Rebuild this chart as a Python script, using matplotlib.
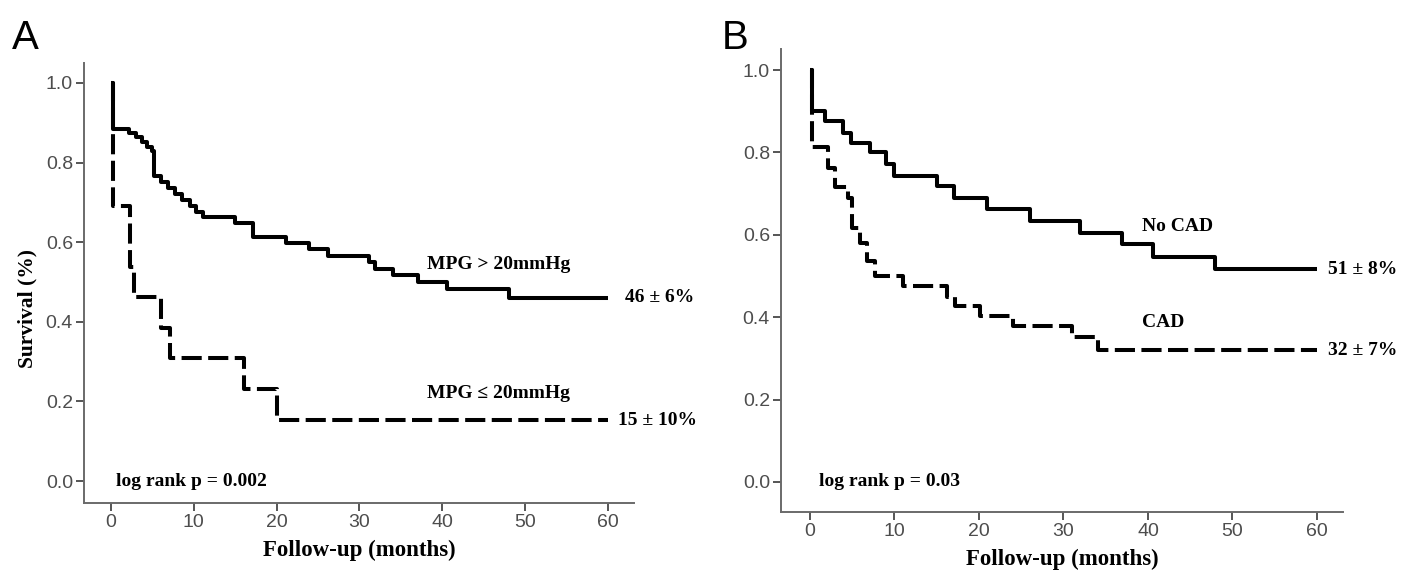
import matplotlib
matplotlib.use("Agg")
import matplotlib.pyplot as plt

# panel A: MPG groups (months, survival after each step)
a_hi_t = [0, 0.3, 2.2, 3.0, 3.7, 4.4, 4.9, 5.2, 6.0, 6.9, 7.7, 8.6, 9.5, 10.3, 11.1, 15.0, 17.1, 21.1, 23.9, 26.2, 31.1, 31.9, 34.1, 37.1, 40.6, 48.1]
a_hi_s = [1.0, 0.885, 0.874, 0.864, 0.852, 0.840, 0.828, 0.766, 0.752, 0.735, 0.720, 0.705, 0.690, 0.676, 0.662, 0.648, 0.612, 0.598, 0.584, 0.566, 0.549, 0.533, 0.517, 0.500, 0.483, 0.460]
a_lo_t = [0, 0.3, 2.3, 2.8, 6.0, 7.1, 16.0, 20.1]
a_lo_s = [1.0, 0.692, 0.538, 0.462, 0.385, 0.308, 0.231, 0.154]

# panel B: CAD groups
b_no_t = [0, 0.2, 1.8, 3.9, 4.9, 7.1, 9.0, 9.9, 15.0, 17.0, 20.9, 26.0, 32.0, 36.9, 40.6, 47.9]
b_no_s = [1.0, 0.901, 0.877, 0.848, 0.824, 0.800, 0.771, 0.743, 0.718, 0.690, 0.662, 0.633, 0.605, 0.577, 0.547, 0.516]
b_cad_t = [0, 0.2, 2.1, 3.0, 4.5, 5.0, 5.9, 6.8, 7.7, 11.0, 16.2, 17.2, 20.1, 24.0, 31.0, 34.1]
b_cad_s = [1.0, 0.812, 0.763, 0.715, 0.690, 0.617, 0.580, 0.536, 0.500, 0.475, 0.448, 0.427, 0.402, 0.378, 0.353, 0.321]

follow_end = 60
xticks = [0, 10, 20, 30, 40, 50, 60]
yticks = [0.0, 0.2, 0.4, 0.6, 0.8, 1.0]

SERIF = "Liberation Serif"
SANS = "Liberation Sans"
W, H = 1401, 570


def km(ax, t, s, dashed=False):
    x = list(t) + [follow_end]
    y = list(s) + [s[-1]]
    ls = (0, (5.0, 1.6)) if dashed else "-"
    ax.step(x, y, where="post", color="black", lw=2.9, ls=ls,
            solid_capstyle="butt", dash_capstyle="butt")


def style(ax, xlim, ylim):
    ax.set_xlim(*xlim)
    ax.set_ylim(*ylim)
    for side in ["top", "right"]:
        ax.spines[side].set_visible(False)
    for side in ["left", "bottom"]:
        ax.spines[side].set_color("#6a6a6a")
        ax.spines[side].set_linewidth(1.4)
    ax.set_xticks(xticks)
    ax.set_yticks(yticks)
    ax.set_yticklabels([f"{v:.1f}" for v in yticks])
    ax.tick_params(direction="out", length=6, width=1.4, color="#555555",
                   labelcolor="#4d4d4d", labelsize=14, pad=2)
    for lab in ax.get_xticklabels() + ax.get_yticklabels():
        lab.set_fontfamily(SANS)
    ax.set_xlabel("Follow-up (months)", fontfamily=SERIF, fontweight="bold",
                  fontsize=16.5, labelpad=6)


def rect(l, r, t, b):
    return [l / W, 1 - b / H, (r - l) / W, (b - t) / H]


fig = plt.figure(figsize=(W / 100, H / 100), dpi=100)

axA = fig.add_axes(rect(84, 634, 63, 503))
km(axA, a_lo_t, a_lo_s, dashed=True)
km(axA, a_hi_t, a_hi_s)
style(axA, (-3.26, 63.14), (-0.055, 1.050))
txt = dict(fontfamily=SERIF, fontweight="bold", fontsize=14)
axA.text(46.8, 0.545, "MPG > 20mmHg", ha="center", va="center", **txt)
axA.text(62.1, 0.462, "46 ± 6%", ha="left", va="center", **txt)
axA.text(46.8, 0.221, "MPG ≤ 20mmHg", ha="center", va="center", **txt)
axA.text(61.2, 0.153, "15 ± 10%", ha="left", va="center", **txt)
axA.text(0.6, 0.0, "log rank p = 0.002", ha="left", va="center", **txt)

axB = fig.add_axes(rect(781, 1343, 49, 512))
km(axB, b_cad_t, b_cad_s, dashed=True)
km(axB, b_no_t, b_no_s)
style(axB, (-3.43, 63.08), (-0.073, 1.051))
axB.text(39.3, 0.619, "No CAD", ha="left", va="center", **txt)
axB.text(61.3, 0.515, "51 ± 8%", ha="left", va="center", **txt)
axB.text(39.3, 0.388, "CAD", ha="left", va="center", **txt)
axB.text(61.3, 0.320, "32 ± 7%", ha="left", va="center", **txt)
axB.text(1.07, 0.0, "log rank p = 0.03", ha="left", va="center", **txt)

fig.text(27 / W, 1 - 308 / H, "Survival (%)", rotation=90, ha="center", va="center",
         fontfamily=SERIF, fontweight="bold", fontsize=15.5)
fig.text(12 / W, 1 - 49 / H, "A", fontfamily=SANS, fontsize=29, ha="left", va="baseline")
fig.text(722 / W, 1 - 49 / H, "B", fontfamily=SANS, fontsize=29, ha="left", va="baseline")

fig.savefig("out.png", dpi=100, facecolor="white")
